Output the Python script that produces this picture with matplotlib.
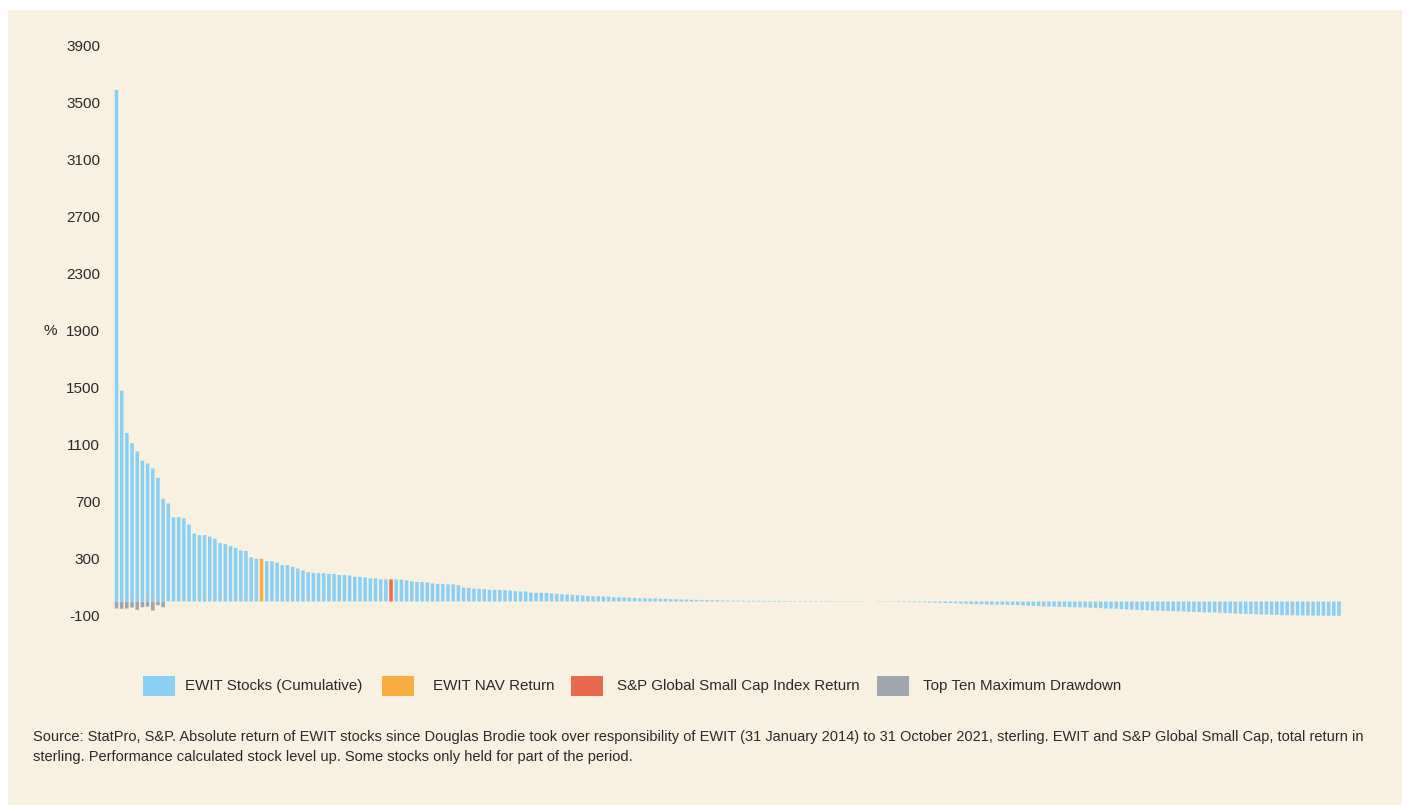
import matplotlib
matplotlib.use("Agg")
import matplotlib.pyplot as plt
from matplotlib.patches import Rectangle

# ---------------- data ----------------
stock_returns = [
    3590, 1480, 1182, 1112, 1053, 988, 969, 934, 868, 721,
    688, 592, 592, 583, 540, 477, 466, 466, 456, 440,
    410, 403, 389, 377, 358, 354, 310, 300, 300, 284,
    283, 273, 256, 255, 244, 232, 218, 206, 201, 199,
    199, 194, 193, 186, 185, 182, 174, 173, 169, 163,
    162, 156, 155, 155, 155, 154, 148, 141, 137, 136,
    134, 127, 124, 124, 120, 120, 115, 98, 96, 91,
    89, 87, 82, 82, 81, 80, 77, 73, 70, 70,
    63, 61, 61, 60, 56, 54, 51, 49, 47, 44,
    42, 40, 37, 37, 35, 35, 30, 30, 28, 26,
    26, 23, 23, 21, 21, 19, 19, 16, 16, 14,
    14, 12, 12, 10, 9, 8, 8, 7, 7, 6,
    6, 5, 5, 5, 5, 4, 4, 4, 4, 4,
    4, 3, 3, 3, 3, 3, 3, 3, 3, 2,
    2, 2, 2, 2, 2, 0, 0, -2, -2, -2,
    -3, -3, -4, -4, -5, -6, -6, -7, -8, -9,
    -10, -11, -12, -14, -15, -17, -18, -20, -21, -22,
    -22, -23, -24, -25, -25, -27, -29, -30, -32, -34,
    -35, -36, -37, -38, -40, -41, -42, -42, -44, -45,
    -47, -49, -50, -51, -54, -56, -58, -59, -61, -62,
    -63, -64, -65, -67, -68, -69, -70, -71, -73, -74,
    -76, -77, -78, -79, -81, -82, -84, -85, -87, -88,
    -89, -91, -92, -93, -94, -95, -96, -97, -97, -98,
    -98, -99, -99, -99, -100, -100, -100,
]
nav_index = 28          # EWIT NAV Return bar
index_index = 53        # S&P Global Small Cap Index Return bar
drawdown_top_ten = [-49, -51, -49, -42, -58, -40, -35, -63, -26, -40]

yticks = [-100, 300, 700, 1100, 1500, 1900, 2300, 2700, 3100, 3500, 3900]

legend_labels = ["EWIT Stocks (Cumulative)", "EWIT NAV Return",
                 "S&P Global Small Cap Index Return", "Top Ten Maximum Drawdown"]

footnote_lines = [
    "Source: StatPro, S&P. Absolute return of EWIT stocks since Douglas Brodie took over "
    "responsibility of EWIT (31 January 2014) to 31 October 2021, sterling. EWIT and S&P Global "
    "Small Cap, total return in",
    "sterling. Performance calculated stock level up. Some stocks only held for part of the period.",
]

# ---------------- style ----------------
BG = "#F8F1E1"
BLUE = "#8AD0F5"
ORANGE = "#F8AE40"
RED = "#EA6A50"
GREY = "#A0A6AE"
TXT = "#2a2a2a"
plt.rcParams['font.family'] = ['Liberation Sans', 'DejaVu Sans']

W, H = 1410, 805
fig = plt.figure(figsize=(W / 100, H / 100), dpi=100)
fig.patch.set_facecolor("white")
# cream panel
fig.patches.append(Rectangle((8 / W, 0), (1402 - 8) / W, (H - 10) / H,
                             transform=fig.transFigure, facecolor=BG,
                             edgecolor="none", zorder=-10))

n = len(stock_returns)
# axes placement (pixels)
px_per_unit = 0.1425
ymin, ymax = -200, 4000
y_zero_px = 601.5
top_px = y_zero_px - ymax * px_per_unit
bot_px = y_zero_px - ymin * px_per_unit
spacing = 5.18
x0_px = 116.5
left_px = x0_px - spacing
right_px = x0_px + spacing * n
ax = fig.add_axes([left_px / W, (H - bot_px) / H,
                   (right_px - left_px) / W, (bot_px - top_px) / H])
ax.set_facecolor("none")
ax.set_xlim(-1, n)
ax.set_ylim(ymin, ymax)

x = list(range(n))
colors = [BLUE] * n
colors[nav_index] = ORANGE
colors[index_index] = RED
bars = ax.bar(x, stock_returns, width=0.68, color=colors, linewidth=0, zorder=2)
dd = ax.bar(list(range(len(drawdown_top_ten))), drawdown_top_ten, width=0.68,
            color=GREY, linewidth=0, zorder=1)
for p in list(bars) + list(dd):
    p.set_snap(False)

for s in ax.spines.values():
    s.set_visible(False)
ax.set_xticks([])
ax.set_yticks(yticks)
ax.set_yticklabels([str(t) for t in yticks])
ax.tick_params(axis='y', length=0, pad=8, labelsize=11, labelcolor=TXT)

fig.text(43 / W, 1 - 331 / H, "%", fontsize=11, color=TXT, va="center", ha="left")

# legend
patch_w, patch_h = 32, 20
legend_y = 686
items = [(143, 185), (382, 433), (571, 617), (877, 923)]
leg_colors = [BLUE, ORANGE, RED, GREY]
for (px, tx), col, lab in zip(items, leg_colors, legend_labels):
    fig.patches.append(Rectangle((px / W, 1 - (legend_y + patch_h / 2) / H),
                                 patch_w / W, patch_h / H, transform=fig.transFigure,
                                 facecolor=col, edgecolor="none"))
    fig.text(tx / W, 1 - legend_y / H, lab, fontsize=10.9, color=TXT,
             va="center", ha="left")

for i, line in enumerate(footnote_lines):
    fig.text(33 / W, 1 - (737 + 20 * i) / H, line, fontsize=10.5, color=TXT,
             va="center", ha="left")

fig.savefig("out.png", dpi=100, facecolor=fig.get_facecolor())
